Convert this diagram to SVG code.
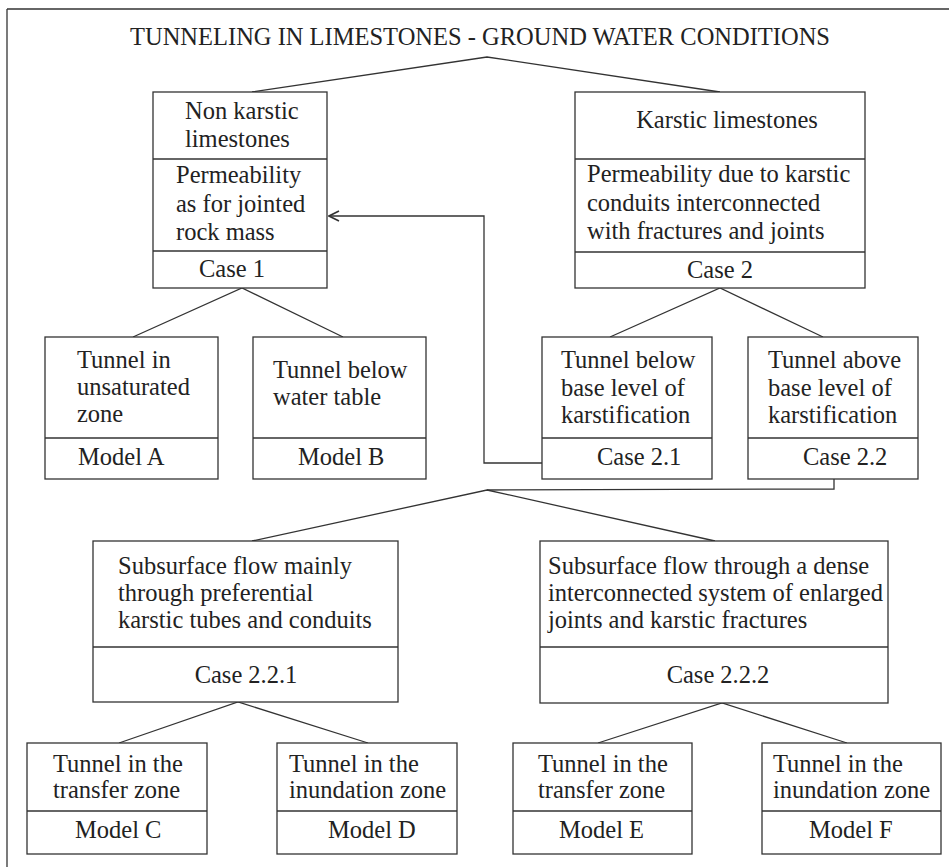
<svg xmlns="http://www.w3.org/2000/svg" width="949" height="867" viewBox="0 0 949 867">
<style>
  .bx { fill: #fff; stroke: #333; stroke-width: 1.3; }
  .dv { stroke: #333; stroke-width: 1.3; }
  .t { font-family: "Liberation Serif", "Times New Roman", serif; font-size: 24.5px; fill: #222; }
  .c { text-anchor: middle; }
  .ln { fill: none; stroke: #333; stroke-width: 1.3; }
</style>
<defs>
  <marker id="open" viewBox="0 0 12 12" refX="11" refY="6" markerWidth="12" markerHeight="12" markerUnits="userSpaceOnUse" orient="auto">
    <path d="M1,1 L11,6 L1,11" fill="none" stroke="#333" stroke-width="1.6"/>
  </marker>
</defs>
<rect width="949" height="867" fill="#fff"/>
<g id="frame">
  <line x1="7" y1="9" x2="949" y2="9" class="ln"/>
  <line x1="7" y1="9" x2="7" y2="867" class="ln"/>
</g>
<g id="title">
  <text x="480" y="45" class="t c" style="font-size:25px" textLength="700" lengthAdjust="spacingAndGlyphs">TUNNELING IN LIMESTONES - GROUND WATER CONDITIONS</text>
</g>
<g id="connectors">
  <polyline class="ln" points="252,92 487,57 720,92"/>
  <polyline class="ln" points="133,337 242,288 343,337"/>
  <polyline class="ln" points="610,337 720,288 823,337"/>
  <polyline class="ln" points="542,463 484,463 484,216 329,216" marker-end="url(#open)"/>
  <polyline class="ln" points="834,479 834,489 487,490"/>
  <polyline class="ln" points="252,541 487,490 715,541"/>
  <polyline class="ln" points="119,743 238,702 368,743"/>
  <polyline class="ln" points="598,743 722,703 847,743"/>
</g>
<g id="node-case1">
  <rect class="bx" x="153" y="92" width="174" height="196"/>
  <line class="dv" x1="153" y1="159" x2="327" y2="159"/>
  <line class="dv" x1="153" y1="251" x2="327" y2="251"/>
  <text class="t" x="185" y="119">Non karstic</text>
  <text class="t" x="185" y="147">limestones</text>
  <text class="t" x="176" y="183">Permeability</text>
  <text class="t" x="176" y="212">as for jointed</text>
  <text class="t" x="176" y="240">rock mass</text>
  <text class="t c" x="232" y="277">Case 1</text>
</g>
<g id="node-case2">
  <rect class="bx" x="575" y="92" width="290" height="196"/>
  <line class="dv" x1="575" y1="159" x2="865" y2="159"/>
  <line class="dv" x1="575" y1="252" x2="865" y2="252"/>
  <text class="t c" x="727" y="128">Karstic limestones</text>
  <text class="t" x="587" y="182">Permeability due to karstic</text>
  <text class="t" x="587" y="211">conduits interconnected</text>
  <text class="t" x="587" y="239">with fractures and joints</text>
  <text class="t c" x="720" y="278">Case 2</text>
</g>
<g id="node-modelA">
  <rect class="bx" x="45" y="337" width="173" height="142"/>
  <line class="dv" x1="45" y1="438" x2="218" y2="438"/>
  <text class="t" x="77" y="368">Tunnel in</text>
  <text class="t" x="77" y="395">unsaturated</text>
  <text class="t" x="77" y="422">zone</text>
  <text class="t" x="78" y="465">Model A</text>
</g>
<g id="node-modelB">
  <rect class="bx" x="253" y="337" width="173" height="142"/>
  <line class="dv" x1="253" y1="438" x2="426" y2="438"/>
  <text class="t" x="273" y="378">Tunnel below</text>
  <text class="t" x="273" y="405">water table</text>
  <text class="t" x="298" y="465">Model B</text>
</g>
<g id="node-case21">
  <rect class="bx" x="542" y="337" width="170" height="142"/>
  <line class="dv" x1="542" y1="438" x2="712" y2="438"/>
  <text class="t" x="561" y="368">Tunnel below</text>
  <text class="t" x="561" y="396">base level of</text>
  <text class="t" x="561" y="423">karstification</text>
  <text class="t" x="597" y="465">Case 2.1</text>
</g>
<g id="node-case22">
  <rect class="bx" x="748" y="337" width="170" height="142"/>
  <line class="dv" x1="748" y1="438" x2="918" y2="438"/>
  <text class="t" x="768" y="368">Tunnel above</text>
  <text class="t" x="768" y="396">base level of</text>
  <text class="t" x="768" y="423">karstification</text>
  <text class="t" x="803" y="465">Case 2.2</text>
</g>
<g id="node-case221">
  <rect class="bx" x="93" y="541" width="305" height="161"/>
  <line class="dv" x1="93" y1="647" x2="398" y2="647"/>
  <text class="t" x="118" y="574">Subsurface flow mainly</text>
  <text class="t" x="118" y="601">through preferential</text>
  <text class="t" x="118" y="628">karstic tubes and conduits</text>
  <text class="t c" x="246" y="683">Case 2.2.1</text>
</g>
<g id="node-case222">
  <rect class="bx" x="540" y="541" width="348" height="162"/>
  <line class="dv" x1="540" y1="647" x2="888" y2="647"/>
  <text class="t" x="548" y="574">Subsurface flow through a dense</text>
  <text class="t" x="548" y="601">interconnected system of enlarged</text>
  <text class="t" x="548" y="628">joints and karstic fractures</text>
  <text class="t c" x="718" y="683">Case 2.2.2</text>
</g>
<g id="node-modelC">
  <rect class="bx" x="27" y="743" width="180" height="111"/>
  <line class="dv" x1="27" y1="811" x2="207" y2="811"/>
  <text class="t" x="53" y="772">Tunnel in the</text>
  <text class="t" x="53" y="798">transfer zone</text>
  <text class="t" x="75" y="838">Model C</text>
</g>
<g id="node-modelD">
  <rect class="bx" x="277" y="743" width="180" height="111"/>
  <line class="dv" x1="277" y1="811" x2="457" y2="811"/>
  <text class="t" x="289" y="772">Tunnel in the</text>
  <text class="t" x="289" y="798">inundation zone</text>
  <text class="t" x="328" y="838">Model D</text>
</g>
<g id="node-modelE">
  <rect class="bx" x="513" y="743" width="179" height="111"/>
  <line class="dv" x1="513" y1="811" x2="692" y2="811"/>
  <text class="t" x="538" y="772">Tunnel in the</text>
  <text class="t" x="538" y="798">transfer zone</text>
  <text class="t" x="559" y="838">Model E</text>
</g>
<g id="node-modelF">
  <rect class="bx" x="762" y="743" width="179" height="111"/>
  <line class="dv" x1="762" y1="811" x2="941" y2="811"/>
  <text class="t" x="773" y="772">Tunnel in the</text>
  <text class="t" x="773" y="798">inundation zone</text>
  <text class="t" x="809" y="838">Model F</text>
</g>
</svg>
